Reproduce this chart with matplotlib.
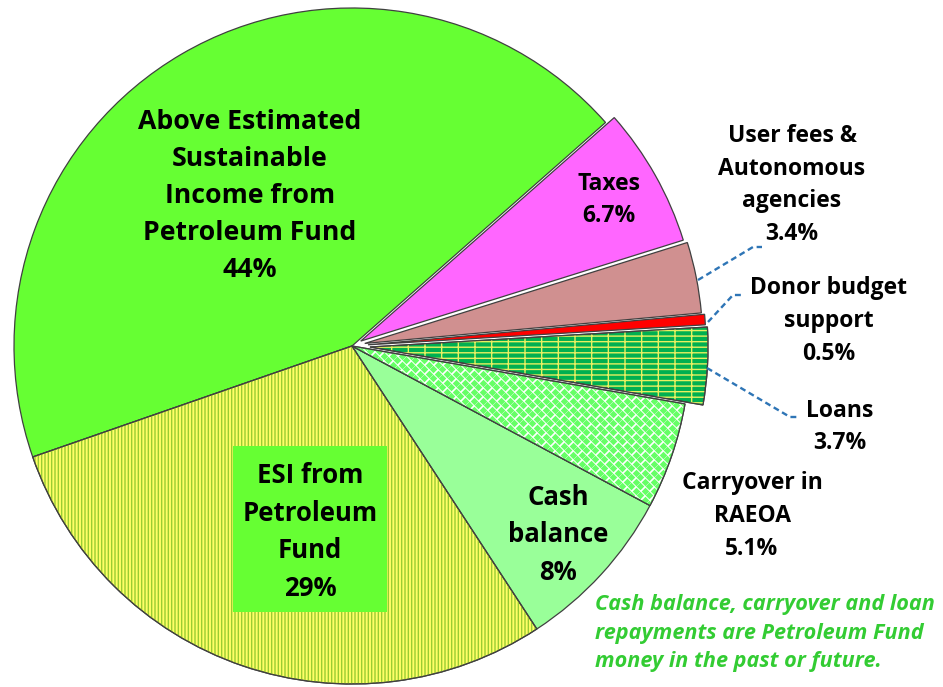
import numpy as np
import matplotlib.pyplot as plt
import matplotlib.patches as mpatches

plt.rcParams['font.family'] = ['Open Sans', 'DejaVu Sans']
plt.rcParams['hatch.linewidth'] = 1.0

# data
labels = ['Above Estimated\nSustainable\nIncome from\nPetroleum Fund\n44%',
          'ESI from\nPetroleum\nFund\n29%',
          'Cash\nbalance\n8%',
          'Carryover in\nRAEOA\n5.1%',
          'Loans\n3.7%',
          'Donor budget\nsupport\n0.5%',
          'User fees &\nAutonomous\nagencies\n3.4%',
          'Taxes\n6.7%']
shares = [44, 29, 8, 5.1, 3.7, 0.5, 3.4, 6.7]

colors = ['#66ff33', '#ffff66', '#99ff99', '#ffffff', '#00b050', '#ff0000', '#d09090', '#ff66ff']
hatches = [None, '|||||', None, None, '---|', None, None, None]
hatch_cols = [None, '#99cc33', None, None, '#e8f060', None, None, None]
explode = [0, 0, 0, 0, 18, 16, 13, 10]

W, H = 943, 687
fig = plt.figure(figsize=(W / 100, H / 100), dpi=100)
ax = fig.add_axes([0, 0, 1, 1])

cx, cy, r = 352, H - 346, 338
wedges, _ = ax.pie(shares, colors=colors, startangle=41.4, counterclock=True,
                   center=(cx, cy), radius=r, explode=explode, frame=True,
                   wedgeprops=dict(edgecolor='#404040', linewidth=0.9))
ax.set_xlim(0, W)
ax.set_ylim(0, H)
ax.set_aspect('equal')
ax.axis('off')

for w, h, hc in zip(wedges, hatches, hatch_cols):
    if h is None:
        continue
    hp = mpatches.Wedge(w.center, w.r, w.theta1, w.theta2, facecolor='none',
                        edgecolor=hc, hatch=h, linewidth=0)
    ax.add_patch(hp)

# diamond checker texture for the carryover slice
cw = wedges[3]
gx = np.arange(cx, cx + r + 10, 9.0)
gy = np.arange(cy - r, cy + 10, 9.0)
px, py = np.meshgrid(gx, gy)
px = np.concatenate([px.ravel(), px.ravel() + 4.5])
py = np.concatenate([py.ravel(), py.ravel() + 4.5])
dots = ax.scatter(px, py, s=15, marker='D', color='#66ff66', linewidths=0, zorder=1.5)
dots.set_clip_path(cw)

for w, h in zip(wedges, hatches):
    if h is None and w is not cw:
        continue
    op = mpatches.Wedge(w.center, w.r, w.theta1, w.theta2, facecolor='none',
                        edgecolor='#404040', linewidth=0.9, zorder=2)
    ax.add_patch(op)

def lab(x, y, s, size=16, ls=1.45, **kw):
    ax.text(x, H - y, s, ha='center', va='center', fontsize=size,
            fontweight='bold', linespacing=ls, color='black', **kw)

lab(250, 196, labels[0], size=19.2, ls=1.55)
# green box behind ESI label
ax.add_patch(mpatches.Rectangle((233, H - 612), 154, 166, facecolor='#66ff33',
                                edgecolor='none', zorder=3))
lab(310, 532, labels[1], size=18.5, ls=1.52, zorder=4)
lab(558, 535, labels[2], size=18.5, ls=1.5)
lab(752, 516, labels[3], size=16.5, ls=1.48)
lab(609, 200, labels[7], size=16.5, ls=1.48)
lab(792, 185, labels[6], size=16.5, ls=1.48)
lab(829, 321, labels[5], size=16.5, ls=1.48)
lab(840, 427, labels[4], size=16.5, ls=1.48)

# leader lines
dash = dict(color='#2e75b6', linestyle=(0, (2.5, 1.6)), linewidth=1.7)
ax.plot([698, 753, 762], [H - 280, H - 247, H - 247], **dash)
ax.plot([708, 733, 743], [H - 322, H - 295, H - 295], **dash)
ax.plot([707, 790, 800], [H - 368, H - 417, H - 417], **dash)

ax.text(595, H - 633, 'Cash balance, carryover and loan\nrepayments are Petroleum Fund\nmoney in the past or future.',
        ha='left', va='center', fontsize=15.6, fontweight='bold', fontstyle='italic',
        color='#33cc33', linespacing=1.45)

fig.savefig('out.png', dpi=100)
